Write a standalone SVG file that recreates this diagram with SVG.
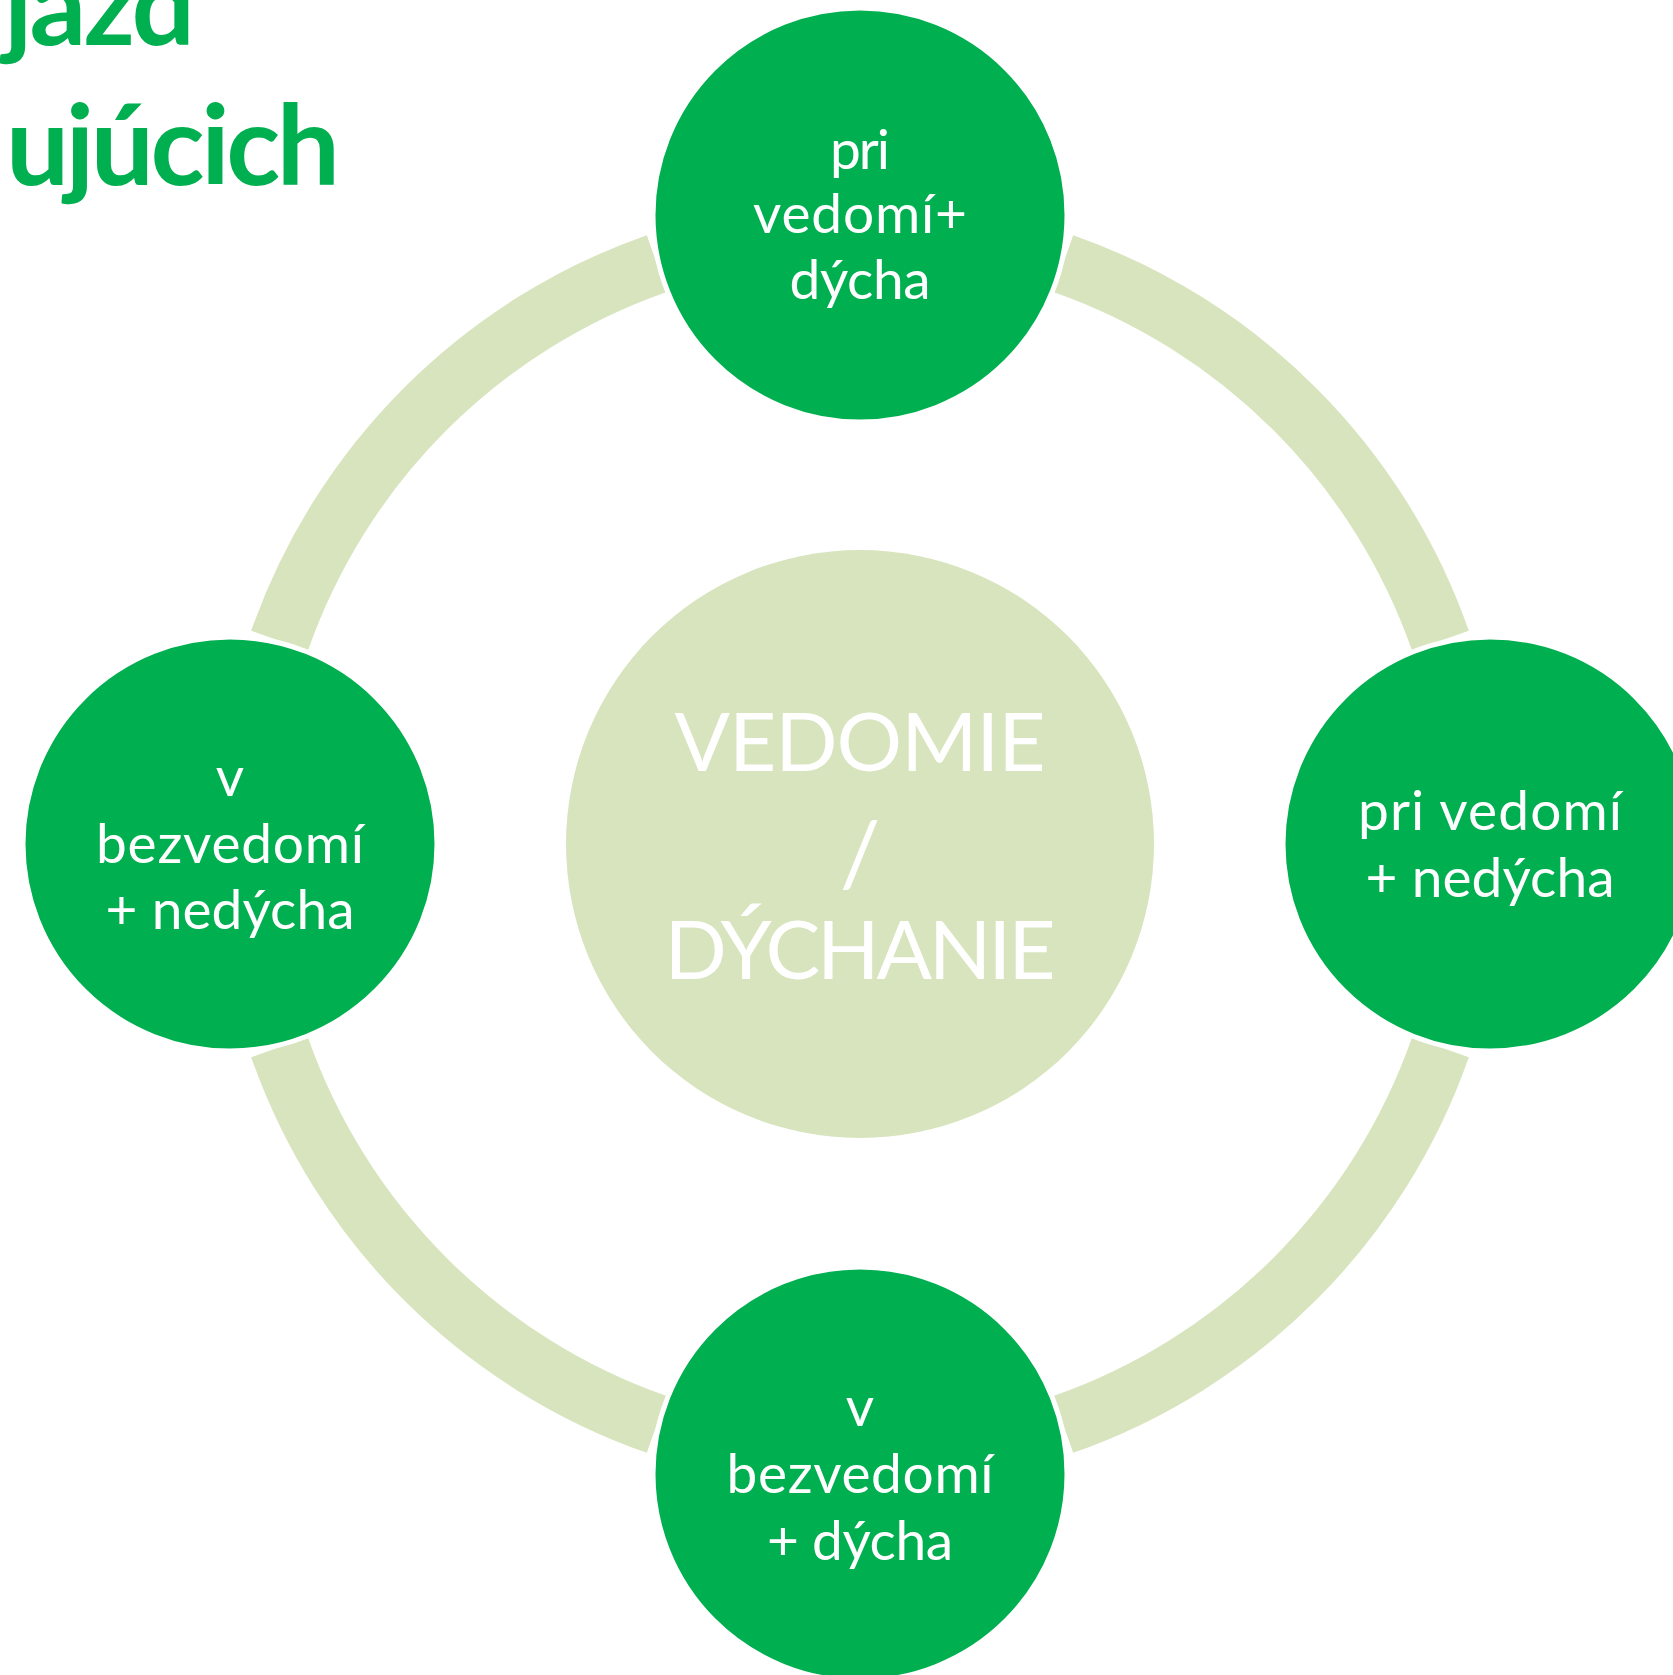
<svg xmlns="http://www.w3.org/2000/svg" width="1673" height="1675" viewBox="0 0 1673 1675">
<style>
.arc{fill:#D7E4BD}
.node{fill:#00AF50;stroke:#FFFFFF;stroke-width:5}
.hub{fill:#D7E4BD}
.t{font-family:Lato,"Open Sans","Liberation Sans",sans-serif;fill:#FFFFFF;text-anchor:middle;font-size:55px}
.c{font-size:82px}
.s{font-size:90px}
.title{font-family:Lato,"Noto Sans","Liberation Sans",sans-serif;font-weight:bold;fill:#00AF50;font-size:112px}
</style>
<rect width="1673" height="1675" fill="#FFFFFF"/>
<g id="title">
<text class="title" x="4" y="45" textLength="191">jazd</text>
<text class="title" x="6" y="185" textLength="334">ujúcich</text>
</g>
<g id="connectors">
<path class="arc" d="M 646.8 235.2 A 645 645 0 0 0 251.2 630.8 L 307.9 650.7 A 585 585 0 0 1 666.7 291.9 Z"/>
<path class="arc" d="M 646.8 235.2 A 645 645 0 0 0 251.2 630.8 L 307.9 650.7 A 585 585 0 0 1 666.7 291.9 Z" transform="rotate(90 860 844)"/>
<path class="arc" d="M 646.8 235.2 A 645 645 0 0 0 251.2 630.8 L 307.9 650.7 A 585 585 0 0 1 666.7 291.9 Z" transform="rotate(180 860 844)"/>
<path class="arc" d="M 646.8 235.2 A 645 645 0 0 0 251.2 630.8 L 307.9 650.7 A 585 585 0 0 1 666.7 291.9 Z" transform="rotate(270 860 844)"/>
</g>
<g id="center">
<circle class="hub" cx="860" cy="844" r="294"/>
<text class="t c" x="860" y="771" textLength="371">VEDOMIE</text>
<text class="t s" x="860" y="886">/</text>
<text class="t c" x="860" y="979" textLength="391">DÝCHANIE</text>
</g>
<g id="node-top">
<circle class="node" cx="860" cy="215" r="207"/>
<text class="t" x="860" y="169" textLength="60">pri</text>
<text class="t" x="860" y="233" textLength="214">vedomí+</text>
<text class="t" x="860" y="299" textLength="141">dýcha</text>
</g>
<g id="node-right">
<circle class="node" cx="1490" cy="844" r="207"/>
<text class="t" x="1490" y="830" textLength="264">pri vedomí</text>
<text class="t" x="1490" y="897" textLength="249">+ nedýcha</text>
</g>
<g id="node-bottom">
<circle class="node" cx="860" cy="1474" r="207"/>
<text class="t" x="860" y="1426">v</text>
<text class="t" x="860" y="1493" textLength="267">bezvedomí</text>
<text class="t" x="860" y="1560" textLength="186">+ dýcha</text>
</g>
<g id="node-left">
<circle class="node" cx="230" cy="844" r="207"/>
<text class="t" x="230" y="796">v</text>
<text class="t" x="230" y="863" textLength="268">bezvedomí</text>
<text class="t" x="230" y="929" textLength="249">+ nedýcha</text>
</g>
</svg>
